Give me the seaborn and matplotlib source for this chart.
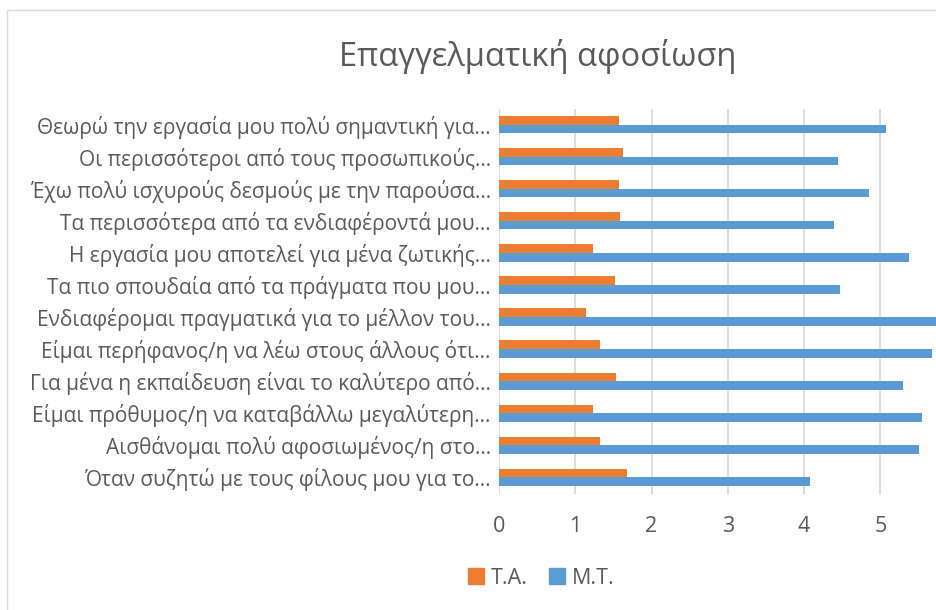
import matplotlib
matplotlib.use("Agg")
import matplotlib.pyplot as plt
import pandas as pd
import seaborn as sns

# categories top to bottom as shown
statements = [
    "Θεωρώ την εργασία μου πολύ σημαντική για...",
    "Οι περισσότεροι από τους προσωπικούς...",
    "Έχω πολύ ισχυρούς δεσμούς με την παρούσα...",
    "Τα περισσότερα από τα ενδιαφέροντά μου...",
    "Η εργασία μου αποτελεί για μένα ζωτικής...",
    "Τα πιο σπουδαία από τα πράγματα που μου...",
    "Ενδιαφέρομαι πραγματικά για το μέλλον του...",
    "Είμαι περήφανος/η να λέω στους άλλους ότι...",
    "Για μένα η εκπαίδευση είναι το καλύτερο από...",
    "Είμαι πρόθυμος/η να καταβάλλω μεγαλύτερη...",
    "Αισθάνομαι πολύ αφοσιωμένος/η στο...",
    "Όταν συζητώ με τους φίλους μου για το...",
]
ta = [1.58, 1.63, 1.58, 1.59, 1.23, 1.52, 1.14, 1.33, 1.54, 1.23, 1.33, 1.68]
mt = [5.07, 4.45, 4.85, 4.39, 5.38, 4.47, 5.80, 5.68, 5.30, 5.54, 5.51, 4.08]
series = ["Τ.Α.", "Μ.Τ."]
colors = ["#ED7D31", "#5B9BD5"]

df = pd.DataFrame({
    "statement": statements * 2,
    "value": ta + mt,
    "series": [series[0]] * len(ta) + [series[1]] * len(mt),
})

sns.set_theme(style="white")
plt.rcParams["font.family"] = ["Open Sans", "DejaVu Sans"]
txt = "#595959"

fig = plt.figure(figsize=(9.36, 6.1), dpi=100)
ax = fig.add_axes([499 / 936, 1 - 493.5 / 610, (936 - 499) / 936, (493.5 - 108.5) / 610])

sns.barplot(data=df, y="statement", x="value", hue="series", order=statements,
            hue_order=series, palette=colors, orient="h", width=0.54,
            saturation=1, linewidth=0, ax=ax, legend=False)

ax.set_xlim(0, 5.73)
ax.set_xticks(range(6))
ax.xaxis.grid(True, color="#D9D9D9", linewidth=1.3)
ax.set_axisbelow(True)
for s in ax.spines.values():
    s.set_visible(False)
ax.set_xlabel("")
ax.set_ylabel("")
ax.tick_params(axis="x", colors=txt, labelsize=15.5, length=0, pad=16)
ax.tick_params(axis="y", colors=txt, labelsize=15, length=0, pad=6)

fig.text(538 / 936, 1 - 56 / 610, "Επαγγελματική αφοσίωση", ha="center",
         va="center", fontsize=23.5, color=txt)

# legend
handles = [plt.Rectangle((0, 0), 1, 1, color=c) for c in colors]
fig.legend(handles, series, loc="center", bbox_to_anchor=(541 / 936, 1 - 578 / 610),
           ncol=2, frameon=False, fontsize=15.5, labelcolor=txt, handlelength=0.75,
           handleheight=0.75, handletextpad=0.3, columnspacing=1.0)

# chart area border
fig.patches.append(plt.Rectangle((7 / 936, -0.1), 1.2, 1 - 10 / 610 + 0.1,
                                 transform=fig.transFigure, fill=False,
                                 edgecolor="#D9D9D9", linewidth=1))

fig.savefig("out.png", dpi=100)
